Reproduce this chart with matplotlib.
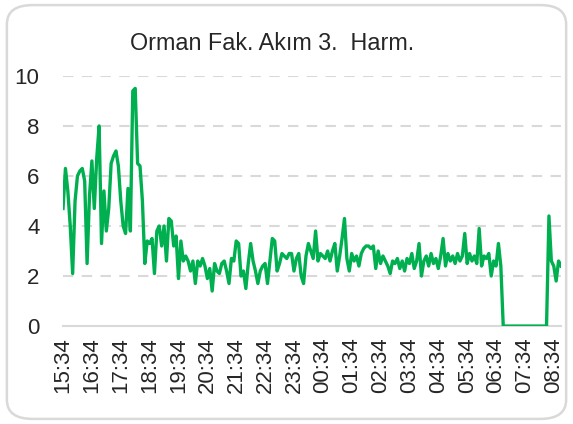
import matplotlib
matplotlib.use("Agg")
import matplotlib.pyplot as plt
from matplotlib.patches import FancyBboxPatch

title = "Orman Fak. Akım 3.  Harm."
start_label = "15:34"
step_minutes = 5
tick_labels = ["15:34", "16:34", "17:34", "18:34", "19:34", "20:34", "21:34", "22:34",
               "23:34", "00:34", "01:34", "02:34", "03:34", "04:34", "05:34", "06:34",
               "07:34", "08:34"]
y_ticks = [0, 2, 4, 6, 8, 10]

values_evening = [4.7, 6.3, 5.4, 4.0, 2.1, 5.0, 6.0, 6.2, 6.3, 5.8, 2.5, 5.2, 6.6, 4.7, 6.7,
                  8.0, 3.3, 5.4, 3.8, 4.7, 6.5, 6.8, 7.0, 6.4, 5.0, 4.0, 3.7, 5.5, 3.8, 9.4,
                  9.5, 6.5, 6.4, 5.0, 2.5]
values_night = [3.4, 3.3, 3.5, 2.1, 3.8, 4.0, 3.2, 4.0, 2.6, 4.3, 4.2, 3.2, 3.6, 1.9, 3.4,
                2.6, 2.8, 2.6, 2.2, 2.6, 1.7, 2.6, 2.4, 2.7, 2.4, 1.9, 2.3, 1.4, 2.5, 2.2,
                2.1, 2.5, 2.6, 2.2, 1.7, 2.7, 2.6, 3.4, 3.3, 2.0, 2.2, 1.5, 2.5, 3.3, 2.6,
                2.2, 1.7, 2.2, 2.4, 2.5, 1.7, 2.6, 3.5, 3.4, 2.2, 2.5, 2.9, 2.8, 2.7, 2.9,
                2.9, 2.2, 2.7, 2.9, 2.0, 1.7, 2.8, 3.3, 3.0, 2.7, 3.8, 2.6, 2.9, 2.8, 2.7,
                3.0, 2.6, 3.0, 3.3, 2.2, 2.8, 3.5, 4.3, 2.7, 2.2, 2.9, 2.6, 2.8, 2.4, 2.9,
                3.1, 3.2, 3.2, 3.1, 3.2, 2.3, 3.0, 2.5, 2.8, 2.6, 2.4, 2.1, 2.6, 2.5, 2.7,
                2.3, 2.6, 2.2, 2.7, 2.5, 2.9, 2.3, 2.6, 3.3, 2.0, 2.6, 2.8, 2.4, 2.9, 2.5,
                2.7, 2.3, 2.8, 3.5, 2.4, 2.9, 2.6, 2.8, 2.5, 2.9, 2.6, 2.8, 3.7, 2.5, 2.9,
                2.6, 2.8, 2.5, 3.9, 2.4, 2.8, 2.7, 2.9, 2.0, 2.6, 2.4, 3.3, 2.4]
values_outage = [0, 0, 0, 0, 0, 0, 0, 0, 0, 0, 0, 0, 0, 0, 0, 0, 0, 0, 0]
values_morning = [4.4, 2.6, 2.4, 1.8, 2.6, 2.4]

values = values_evening + values_night + values_outage + values_morning
x = list(range(len(values)))
tick_pos = [i * (60 // step_minutes) for i in range(len(tick_labels))]

fig = plt.figure(figsize=(5.73, 4.24), dpi=100)
fig.patch.set_facecolor("white")

ax = fig.add_axes([0.110, 0.231, 0.869, 0.590])
ax.set_facecolor("none")
ax.plot(x, values, color="#00b050", linewidth=2.4, solid_joinstyle="round", zorder=3)

ax.set_xlim(0, len(values) - 1)
ax.set_ylim(0, 10)
ax.set_yticks(y_ticks)
ax.set_xticks(tick_pos)
ax.set_xticklabels(tick_labels, rotation=90)

font = "Liberation Sans"
for lab in ax.get_yticklabels() + ax.get_xticklabels():
    lab.set_fontfamily(font)
    lab.set_fontsize(16)
    lab.set_color("#262626")

ax.tick_params(axis="both", length=0)
ax.tick_params(axis="y", pad=17)
ax.tick_params(axis="x", pad=8)
for yv in y_ticks[1:]:
    ax.axhline(yv, color="#d9d9d9", linewidth=1.5, linestyle=(0, (5, 4)), zorder=1)
for s in ["top", "right", "left"]:
    ax.spines[s].set_visible(False)
ax.spines["bottom"].set_color("#d9d9d9")
ax.spines["bottom"].set_linewidth(1.5)

fig.text(0.474, 0.898, title, ha="center", va="center", fontsize=16.8,
         fontfamily=font, color="#262626")

border = FancyBboxPatch((0.012, 0.012), 0.976, 0.976,
                        boxstyle="round,pad=0,rounding_size=0.045",
                        transform=fig.transFigure, facecolor="none",
                        edgecolor="#d9d9d9", linewidth=1.8, zorder=5)
fig.patches.append(border)

fig.savefig("out.png", dpi=100)
